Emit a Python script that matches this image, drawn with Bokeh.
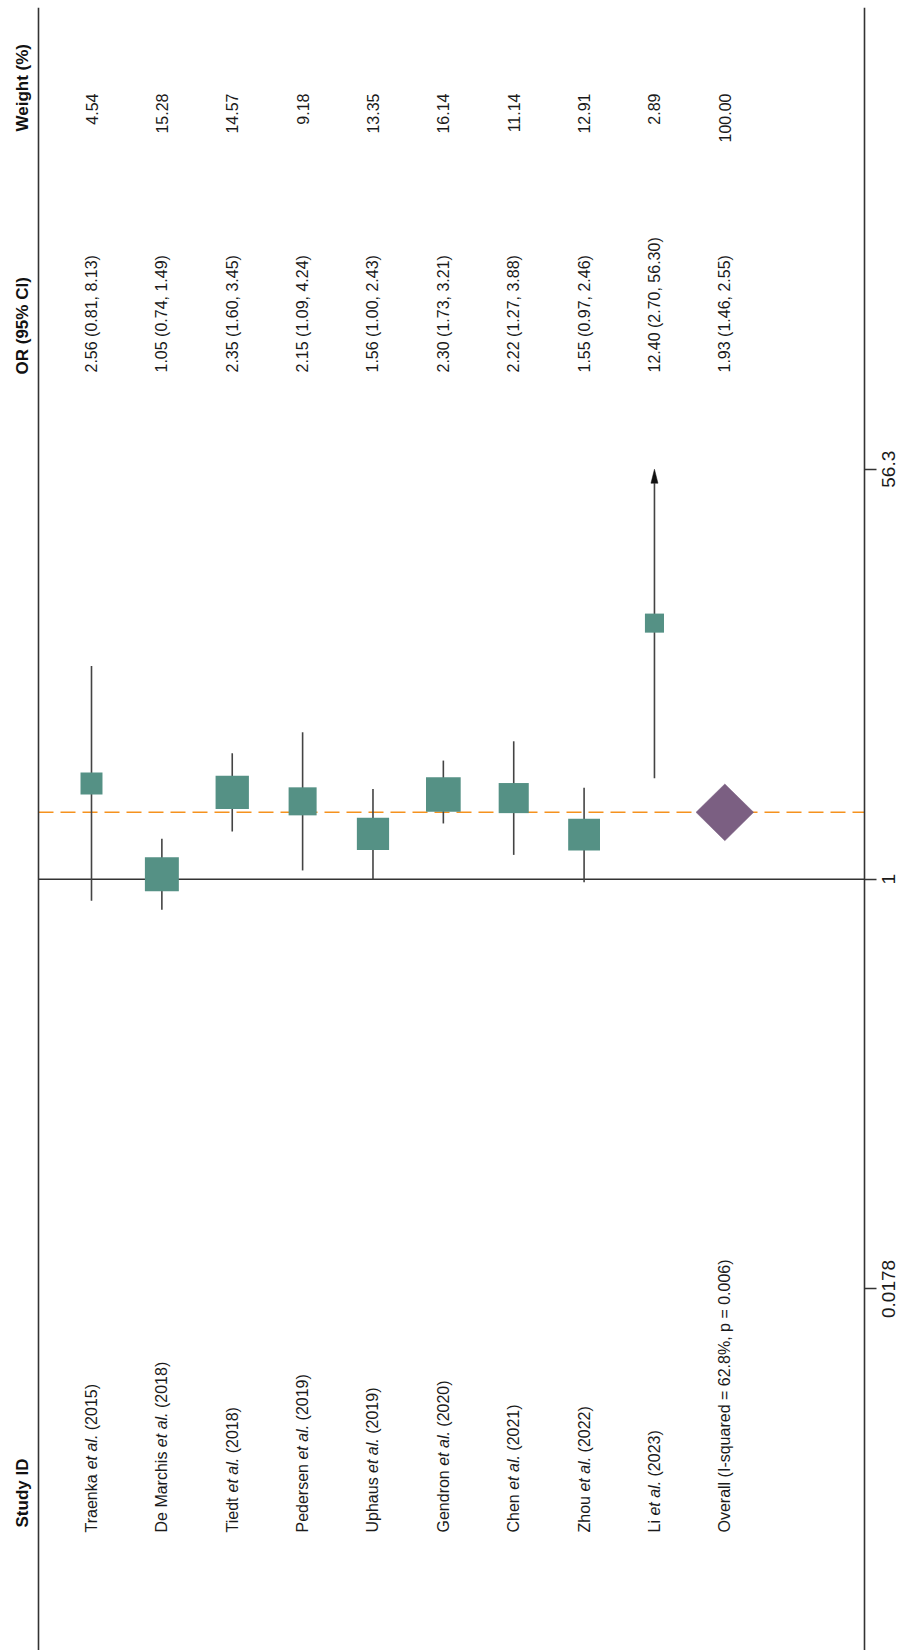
import math
from bokeh.plotting import figure
from bokeh.models import Range1d, LogAxis, FixedTicker, Span, ColumnDataSource
from bokeh.core.properties import value
from bokeh.embed import file_html
from bokeh.resources import INLINE

# ---------------- data ----------------
authors = ["Traenka", "De Marchis", "Tiedt", "Pedersen", "Uphaus",
           "Gendron", "Chen", "Zhou", "Li"]
years = ["2015", "2018", "2018", "2019", "2019", "2020", "2021", "2022", "2023"]
or_est = [2.56, 1.05, 2.35, 2.15, 1.56, 2.30, 2.22, 1.55, 12.40]
ci_low = [0.81, 0.74, 1.60, 1.09, 1.00, 1.73, 1.27, 0.97, 2.70]
ci_high = [8.13, 1.49, 3.45, 4.24, 2.43, 3.21, 3.88, 2.46, 56.30]
weights = [4.54, 15.28, 14.57, 9.18, 13.35, 16.14, 11.14, 12.91, 2.89]
overall_or = 1.93
overall_low = 1.46
overall_high = 2.55
overall_weight = 100.00
i_squared = 62.8
p_het = 0.006
axis_ticks = [0.0178, 1, 56.3]
axis_tick_labels = ["0.0178", "1", "56.3"]
headers = ["Study ID", "OR (95% CI)", "Weight (%)"]

# ---------------- layout (page pixel space) ----------------
TOP = 7
PAGE_W = 899
PAGE_H = 1650
AXIS_X = 864            # position of the OR axis line
PX_PER_DEC = 234.2      # pixels per decade of OR
ONE_Y = 878.7           # pixel row of OR = 1
X0_PX = 91.0            # pixel column of the first study
X_STEP = 70.37          # pixels between studies

def fx(px):
    return 1 + (px - X0_PX) / X_STEP

def fy(py):
    return 10 ** ((ONE_Y - py) / PX_PER_DEC)

FONT = "Liberation Sans"
FS = 16
HFS = 17
TEXT_COLOR = "#1a1a1a"
TEAL = "#559185"
PURPLE = "#7b5f82"
ORANGE = "#f5921e"
LINE = "#333333"
CI_COLOR = "#444444"

# Liberation Sans advance widths (per 1000 em)
AW = {" ": 278, "(": 333, ")": 333, ".": 278, ",": 278, "-": 333, "=": 584, "%": 889,
      "A": 667, "B": 667, "C": 722, "D": 722, "E": 667, "F": 611, "G": 778, "H": 722,
      "I": 278, "J": 500, "K": 667, "L": 556, "M": 833, "N": 722, "O": 778, "P": 667,
      "Q": 778, "R": 722, "S": 667, "T": 611, "U": 722, "V": 667, "W": 944, "X": 667,
      "Y": 667, "Z": 611,
      "a": 556, "b": 556, "c": 500, "d": 556, "e": 556, "f": 278, "g": 556, "h": 556,
      "i": 222, "j": 222, "k": 500, "l": 222, "m": 833, "n": 556, "o": 556, "p": 556,
      "q": 556, "r": 333, "s": 500, "t": 278, "u": 556, "v": 500, "w": 722, "x": 500,
      "y": 500, "z": 500}

def text_w(s, size):
    return sum(AW.get(c, 556) for c in s) / 1000.0 * size

p = figure(frame_width=PAGE_W, frame_height=PAGE_H - TOP,
           x_range=Range1d(fx(0), fx(PAGE_W)),
           y_range=Range1d(fy(PAGE_H), fy(TOP)),
           y_axis_type="log", x_axis_location=None, y_axis_location=None,
           toolbar_location=None, output_backend="svg",
           min_border_left=0, min_border_bottom=0, min_border_top=TOP,
           min_border_right=0,
           outline_line_color=None,
           background_fill_color="white", border_fill_color="white")
p.xgrid.visible = False
p.ygrid.visible = False

# OR axis: fixed inside the plot at the right edge, ticks and labels pointing right,
# labels read bottom-to-top and are centred on their ticks
ax = LogAxis(ticker=FixedTicker(ticks=axis_ticks), fixed_location=fx(AXIS_X),
             major_label_overrides=dict(zip(axis_ticks, axis_tick_labels)),
             major_label_orientation="vertical",
             major_tick_in=12, major_tick_out=0,
             minor_tick_line_color=None,
             axis_line_color=LINE, axis_line_width=1.6,
             major_tick_line_color=LINE, major_tick_line_width=1.3,
             major_label_text_font=FONT, major_label_text_font_size="19px",
             major_label_text_color=TEXT_COLOR, major_label_standoff=-31)
p.add_layout(ax, "left")

# left frame line
p.add_layout(Span(location=fx(38), dimension="height", line_color=LINE, line_width=1.6))

n = len(authors)
xs = list(range(1, n + 1))
x_over = n + 1
axis_max = axis_ticks[-1]

# null line (OR = 1) and overall dashed line
p.segment(x0=[fx(38)], x1=[fx(AXIS_X)], y0=[1], y1=[1], line_color=LINE, line_width=1.5)
p.segment(x0=[fx(38)], x1=[fx(AXIS_X)], y0=[overall_or], y1=[overall_or],
          line_color=ORANGE, line_width=1.6, line_dash="15 7")

# confidence intervals (clipped at the axis maximum, with an arrow)
head_len = 14.0
head_half = 3.5
hi_plot = []
for h in ci_high:
    if h >= axis_max:
        hi_plot.append(axis_max / 10 ** (head_len / PX_PER_DEC))
    else:
        hi_plot.append(h)
ci_src = ColumnDataSource(dict(x=xs, lo=ci_low, hi=hi_plot))
p.segment(x0="x", x1="x", y0="lo", y1="hi", source=ci_src, line_color=CI_COLOR, line_width=1.6)

arr_xs, arr_ys = [], []
for xi, h in zip(xs, ci_high):
    if h >= axis_max:
        base = axis_max / 10 ** (head_len / PX_PER_DEC)
        dx = head_half / X_STEP
        arr_xs.append([xi - dx, xi, xi + dx])
        arr_ys.append([base, axis_max, base])
if arr_xs:
    p.patches(xs=arr_xs, ys=arr_ys, fill_color="#111111", line_color="#111111", line_width=0.5)

# weighted squares
sizes = [6.74 * math.sqrt(w) + 7.6 for w in weights]
sq_src = ColumnDataSource(dict(x=xs, y=or_est, s=sizes))
p.scatter(x="x", y="y", size="s", marker="square", source=sq_src,
          fill_color=TEAL, line_color=None)

# overall diamond
dhalf = 28.8 / X_STEP
p.patch(x=[x_over - dhalf, x_over, x_over + dhalf, x_over],
        y=[overall_or, overall_high, overall_or, overall_low],
        fill_color=PURPLE, line_color=PURPLE, line_width=0.5)

# ---------------- text columns ----------------
left_norm = dict(x=[], y=[], t=[])
left_ital = dict(x=[], y=[], t=[])
right_norm = dict(x=[], y=[], t=[])
STUDY_START = 1532.0
space = text_w(" ", FS)
for xi, a, yr in zip(xs, authors, years):
    parts = [(a, left_norm), ("et al.", left_ital), ("(" + yr + ")", left_norm)]
    pos = STUDY_START
    for s, d in parts:
        d["x"].append(xi)
        d["y"].append(fy(pos))
        d["t"].append(s)
        pos -= text_w(s, FS) + space
left_norm["x"].append(x_over)
left_norm["y"].append(fy(STUDY_START))
left_norm["t"].append("Overall (I-squared = %.1f%%, p = %.3f)" % (i_squared, p_het))

OR_START = 372.0
for xi, o, lo, hi in zip(xs, or_est, ci_low, ci_high):
    left_norm["x"].append(xi)
    left_norm["y"].append(fy(OR_START))
    left_norm["t"].append("%.2f (%.2f, %.2f)" % (o, lo, hi))
left_norm["x"].append(x_over)
left_norm["y"].append(fy(OR_START))
left_norm["t"].append("%.2f (%.2f, %.2f)" % (overall_or, overall_low, overall_high))

W_END = 93.0
for xi, w in zip(xs, weights):
    right_norm["x"].append(xi)
    right_norm["y"].append(fy(W_END))
    right_norm["t"].append("%.2f" % w)
right_norm["x"].append(x_over)
right_norm["y"].append(fy(W_END))
right_norm["t"].append("%.2f" % overall_weight)

common = dict(angle=math.pi / 2, text_baseline="middle",
              text_font=value(FONT), text_font_size="%dpx" % FS, text_color=TEXT_COLOR)
p.text(x="x", y="y", text="t", source=ColumnDataSource(left_norm), text_align="left", **common)
p.text(x="x", y="y", text="t", source=ColumnDataSource(left_ital), text_align="left",
       text_font_style="italic", **common)
p.text(x="x", y="y", text="t", source=ColumnDataSource(right_norm), text_align="right", **common)

hx = fx(22)
p.text(x=[hx, hx, hx], y=[fy(1527), fy(374), fy(131)], text=headers,
       angle=math.pi / 2, text_align="left", text_baseline="middle",
       text_font=value(FONT), text_font_size="%dpx" % HFS, text_font_style="bold",
       text_color="#111111")

open("out.html", "w").write(file_html(p, INLINE))
